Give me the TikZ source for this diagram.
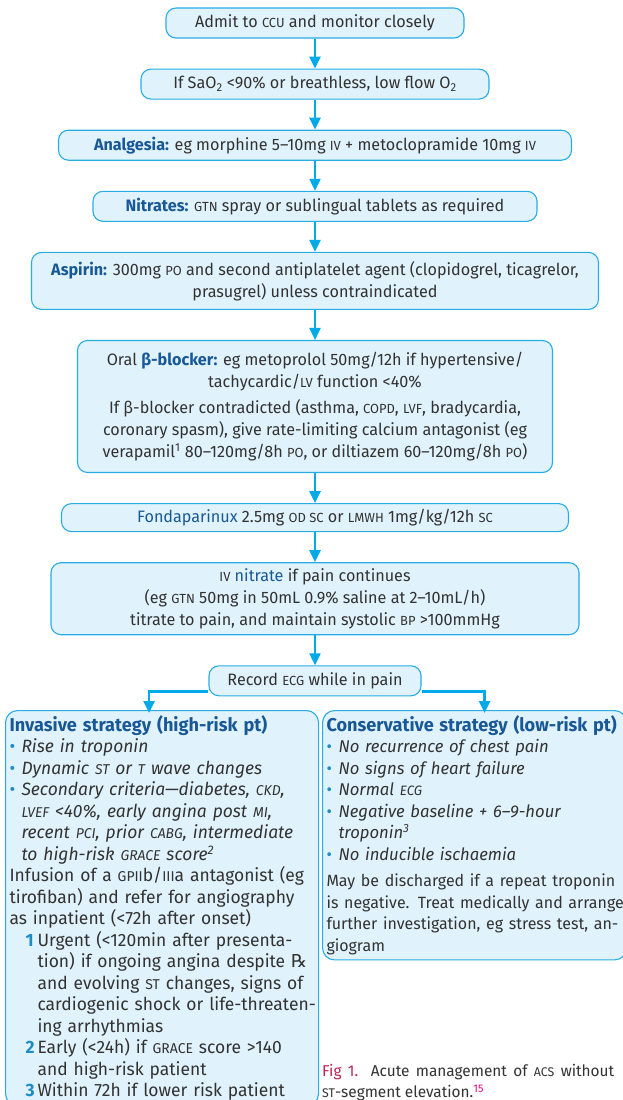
\documentclass[tikz,border=0pt]{standalone}
\usepackage{fontspec}
\setmainfont{Fira Sans}[FakeStretch=0.98]
\newfontfamily\rxfont{DejaVu Sans}
\definecolor{BoxFill}{RGB}{224,242,251}
\definecolor{BoxLine}{RGB}{40,172,228}
\definecolor{FlowCyan}{RGB}{0,169,232}
\definecolor{DotBlue}{RGB}{30,140,200}
\definecolor{HeadBlue}{RGB}{24,88,150}
\definecolor{BodyGrey}{RGB}{50,50,50}
\definecolor{CapRed}{RGB}{190,35,80}
\definecolor{RefPink}{RGB}{230,0,126}
\usetikzlibrary{arrows.meta,positioning}

\newcommand\ab[1]{\scalebox{0.8}{#1}}
\newcommand\hd[1]{\textcolor{HeadBlue}{\bfseries #1}}
\newcommand\hl[1]{\textcolor{HeadBlue}{#1}}
\newcommand\lne[1]{\mbox{#1}\\}
\newcommand\bul{\makebox[12pt][l]{\textcolor{DotBlue}{\upshape\textbullet}}}
\newcommand\cnt{\hspace*{12pt}}
\newcommand\nm[1]{\hspace*{16pt}\makebox[12pt][l]{\textcolor{DotBlue}{\bfseries #1}}}
\newcommand\ncnt{\hspace*{28pt}}
\newcommand\rx{{\rxfont ℞}}
\newcommand\sml{\fontsize{16.3}{21.5}\selectfont}

\begin{document}
\begin{tikzpicture}[
    font=\fontsize{16.5}{22}\selectfont, node distance=30pt, text=BodyGrey,
    box/.style={draw=BoxLine, fill=BoxFill, line width=1.1pt, rounded corners=10pt,
      inner xsep=8pt, inner ysep=3pt, minimum height=30pt, align=center},
    sbox/.style={draw=BoxLine, fill=BoxFill, line width=1.1pt, rounded corners=12pt,
      inner xsep=4pt, inner ysep=5pt, align=left, anchor=north west,
      font=\fontsize{17.8}{21.5}\selectfont},
    tf/.style={-{Triangle[length=12pt,width=11pt]}, line width=2.4pt, FlowCyan}
  ]
    \useasboundingbox (0,0) rectangle (622pt,-1100pt);
    \node[box,minimum width=298pt](ccu) at (315pt,-23pt){Admit to \ab{CCU} and monitor closely};
    \node[box,minimum width=348pt,below=of ccu](oxy){If SaO\textsubscript{2} <90\% or breathless, low flow O\textsubscript{2}};
    \node[box,minimum width=513pt,below=of oxy](anal){\hd{Analgesia:} eg morphine 5--10mg \ab{IV} + metoclopramide 10mg \ab{IV}};
    \node[box,minimum width=444pt,below=of anal](nitr){\hd{Nitrates:} \ab{GTN} spray or sublingual tablets as required};
    \node[box,minimum width=567pt,minimum height=57pt,below=of nitr](asp){\hd{Aspirin:} 300mg \ab{PO} and second antiplatelet agent (clopidogrel, ticagrelor,\\ prasugrel) unless contraindicated};
    \node[box,minimum width=475pt,minimum height=132pt,below=of asp](beta){Oral \hd{β-blocker:} eg metoprolol 50mg/12h if hypertensive/\\ tachycardic/\ab{LV} function <40\%\\[4pt]
      If β-blocker contradicted (asthma, \ab{COPD}, \ab{LVF}, bradycardia,\\ coronary spasm), give rate-limiting calcium antagonist (eg\\ verapamil\textsuperscript{1} 80--120mg/8h \ab{PO}, or diltiazem 60--120mg/8h \ab{PO})};
    \node[box,minimum width=507pt,minimum height=28pt,below=of beta](fonda){\hl{Fondaparinux} 2.5mg \ab{OD SC} or \ab{LMWH} 1mg/kg/12h \ab{SC}};
    \node[box,minimum width=528pt,minimum height=72pt,below=of fonda](ivn){\ab{IV} \hl{nitrate} if pain continues\\ (eg \ab{GTN} 50mg in 50mL 0.9\% saline at 2--10mL/h)\\ titrate to pain, and maintain systolic \ab{BP} >100mmHg};
    \node[box,minimum width=212pt,below=of ivn](ecg){Record \ab{ECG} while in pain};
    \node[sbox,text width=305pt](inv) at (5pt,-710pt){\lne{\fontsize{18.5}{21.5}\selectfont\hd{Invasive strategy (high-risk pt)}}
      \lne{\bul\textit{Rise in troponin}}
      \lne{\bul\textit{Dynamic \ab{ST} or \ab{T} wave changes}}
      \lne{\bul\textit{Secondary criteria---diabetes, \ab{CKD},}}
      \lne{\cnt\textit{\ab{LVEF} <40\%, early angina post \ab{MI},}}
      \lne{\cnt\textit{recent \ab{PCI}, prior \ab{CABG}, intermediate}}
      \lne{\cnt\textit{to high-risk \ab{GRACE} score\textsuperscript{2}}}
      \lne{Infusion of a \ab{GPII}b/\ab{III}a antagonist (eg}
      \lne{tirofiban) and refer for angiography}
      \lne{as inpatient (<72h after onset)}
      \lne{\nm{1}Urgent (<120min after presenta-}
      \lne{\ncnt tion) if ongoing angina despite \rx}
      \lne{\ncnt and evolving \ab{ST} changes, signs of}
      \lne{\ncnt cardiogenic shock or life-threaten-}
      \lne{\ncnt ing arrhythmias}
      \lne{\nm{2}Early (<24h) if \ab{GRACE} score >140}
      \lne{\ncnt and high-risk patient}
      \mbox{\nm{3}Within 72h if lower risk patient}};
    \node[sbox,text width=296pt,font=\fontsize{17}{21.5}\selectfont](con) at (322pt,-710pt){\lne{\fontsize{18.5}{21.5}\selectfont\hd{Conservative strategy (low-risk pt)}}
      \lne{\bul\textit{No recurrence of chest pain}}
      \lne{\bul\textit{No signs of heart failure}}
      \lne{\bul\textit{Normal \ab{ECG}}}
      \lne{\bul\textit{Negative baseline + 6--9-hour}}
      \lne{\cnt\textit{troponin\textsuperscript{3}}}
      \mbox{\bul\textit{No inducible ischaemia}}\\[5pt]
      \lne{\sml May be discharged if a repeat troponin}
      \lne{\sml is negative. Treat medically and arrange}
      \lne{\sml further investigation, eg stress test, an-}
      \mbox{\sml giogram}};
    \node[anchor=north west,text width=292pt,align=justify,inner sep=0pt,
      font=\fontsize{15.7}{21}\selectfont](cap) at (322pt,-1064pt){\textcolor{CapRed}{Fig 1.} Acute management of \ab{ACS} without\linebreak \ab{ST}-segment elevation.\textsuperscript{\textcolor{RefPink}{15}}};
    \draw[tf](ccu)--(oxy);
    \draw[tf](oxy)--(anal);
    \draw[tf](anal)--(nitr);
    \draw[tf](nitr)--(asp);
    \draw[tf](asp)--(beta);
    \draw[tf](beta)--(fonda);
    \draw[tf](fonda)--(ivn);
    \draw[tf](ivn)--(ecg);
    \draw[tf]([yshift=5pt]ecg.south west)-|([xshift=-13pt,yshift=-3pt]inv.north);
    \draw[tf]([yshift=5pt]ecg.south east)-|([xshift=10pt,yshift=-3pt]con.north);
  \end{tikzpicture}
\end{document}
